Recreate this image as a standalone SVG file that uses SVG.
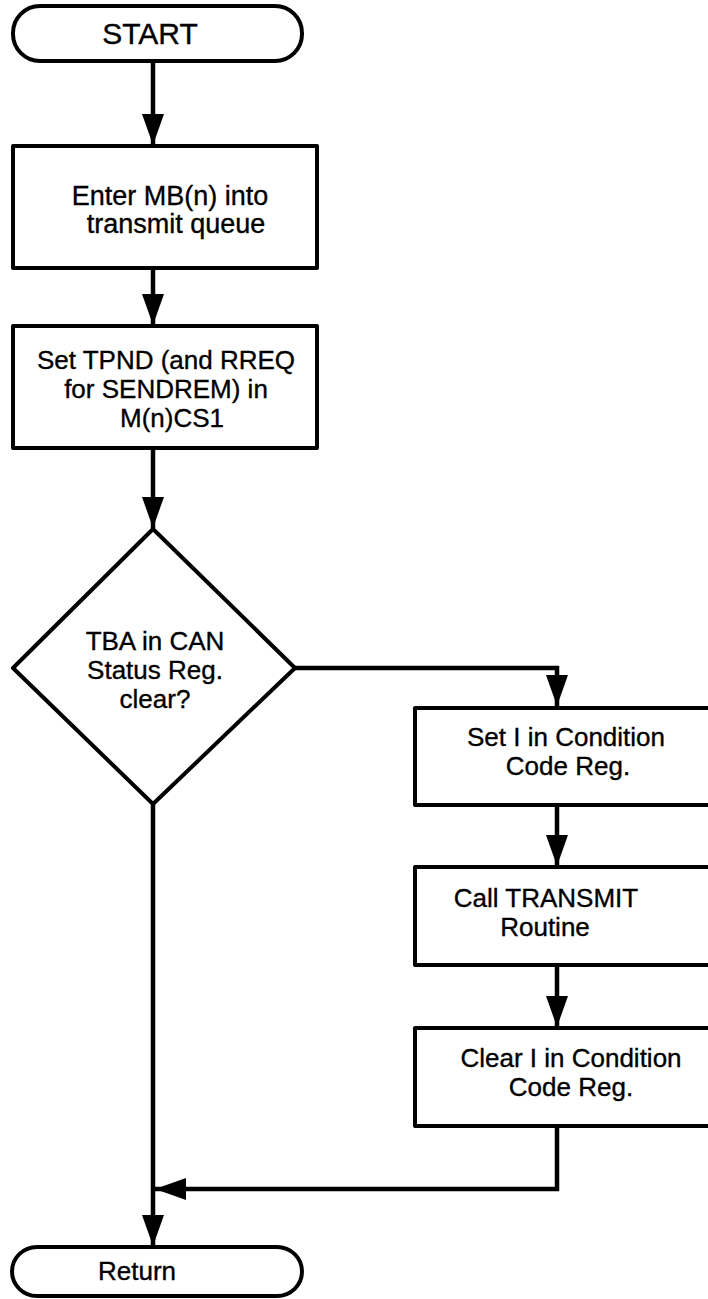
<svg xmlns="http://www.w3.org/2000/svg" width="708" height="1299" viewBox="0 0 708 1299">
<defs>
<style>
.shape{fill:#fff;stroke:#000;stroke-width:4;stroke-linejoin:round}
.conn{fill:none;stroke:#000;stroke-width:4.5;stroke-linejoin:miter}
text{font-family:"Liberation Sans",Arial,Helvetica,sans-serif;font-size:26px;fill:#000;stroke:#000;stroke-width:0.35;text-anchor:middle}
.big{font-size:30px}
.mid{font-size:27px}
.sm{font-size:25px}
</style>
<marker id="ah" markerUnits="userSpaceOnUse" markerWidth="32" markerHeight="24" viewBox="0 0 32 24" refX="31" refY="12" orient="auto">
<path d="M0,1 L31,12 L0,23 Z" fill="#000"/>
</marker>
</defs>
<rect width="708" height="1299" fill="#fff"/>
<g id="connectors">
<path class="conn" d="M153,61 V145" marker-end="url(#ah)"/>
<path class="conn" d="M153,268 V325" marker-end="url(#ah)"/>
<path class="conn" d="M153,448 V528" marker-end="url(#ah)"/>
<path class="conn" d="M295,668 H557 V706" marker-end="url(#ah)"/>
<path class="conn" d="M557,805 V866" marker-end="url(#ah)"/>
<path class="conn" d="M557,965 V1027" marker-end="url(#ah)"/>
<path class="conn" d="M557,1126 V1189 H155" marker-end="url(#ah)"/>
<path class="conn" d="M153,803 V1246" marker-end="url(#ah)"/>
</g>
<g id="start">
<rect class="shape" x="13" y="6" width="289" height="55" rx="27" ry="27"/>
<text class="big" x="150" y="44">START</text>
</g>
<g id="enter">
<rect class="shape" x="13" y="146" width="304" height="122"/>
<text class="mid" x="170" y="205">Enter MB(n) into</text>
<text class="mid" x="176" y="233">transmit queue</text>
</g>
<g id="settpnd">
<rect class="shape" x="13" y="326" width="304" height="122"/>
<text x="166" y="369">Set TPND (and RREQ</text>
<text x="166" y="398">for SENDREM) in</text>
<text x="172" y="427">M(n)CS1</text>
</g>
<g id="decision">
<polygon class="shape" points="153,529 295,668 153,804 13,668"/>
<text x="155" y="650">TBA in CAN</text>
<text x="155" y="679">Status Reg.</text>
<text x="155" y="708">clear?</text>
</g>
<g id="seti">
<rect class="shape" x="415" y="708" width="300" height="97"/>
<text x="566" y="746">Set I in Condition</text>
<text x="568" y="775">Code Reg.</text>
</g>
<g id="calltransmit">
<rect class="shape" x="415" y="867" width="300" height="98"/>
<text x="546" y="907">Call TRANSMIT</text>
<text x="545" y="936">Routine</text>
</g>
<g id="cleari">
<rect class="shape" x="415" y="1028" width="300" height="98"/>
<text x="571" y="1067">Clear I in Condition</text>
<text x="571" y="1096">Code Reg.</text>
</g>
<g id="return">
<rect class="shape" x="12" y="1247" width="290" height="49" rx="25" ry="25"/>
<text x="137" y="1280">Return</text>
</g>
</svg>
